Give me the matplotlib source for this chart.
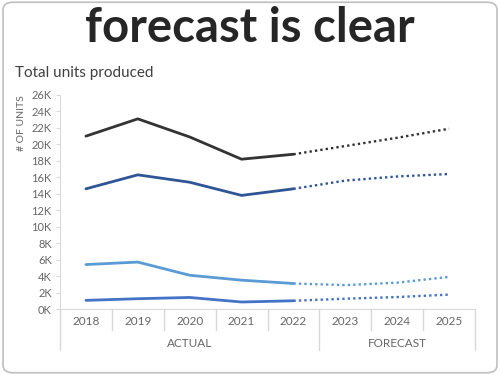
import matplotlib
matplotlib.use("Agg")
import matplotlib.pyplot as plt
from matplotlib.patches import FancyBboxPatch

years = ["2018", "2019", "2020", "2021", "2022", "2023", "2024", "2025"]
groups = ["ACTUAL", "FORECAST"]
series_black = [21.0, 23.1, 20.9, 18.2, 18.8, 19.8, 20.8, 21.9]
series_dark = [14.6, 16.3, 15.4, 13.8, 14.6, 15.6, 16.1, 16.4]
series_light = [5.4, 5.7, 4.1, 3.5, 3.1, 2.9, 3.2, 3.9]
series_mid = [1.05, 1.25, 1.4, 0.85, 1.0, 1.25, 1.45, 1.75]
yticks = [0, 2, 4, 6, 8, 10, 12, 14, 16, 18, 20, 22, 24, 26]

plt.rcParams['font.family'] = ['Lato', 'DejaVu Sans']

fig = plt.figure(figsize=(5, 3.75), dpi=100)
fig.patch.set_facecolor("white")

# rounded frame
frame = FancyBboxPatch((0.006, 0.006), 0.988, 0.988,
                       boxstyle="round,pad=0,rounding_size=0.02",
                       transform=fig.transFigure, fill=False,
                       edgecolor="#bfbfbf", linewidth=1.2)
fig.patches.append(frame)

fig.text(0.5, 0.925, "forecast is clear", ha="center", va="center",
         fontsize=34, fontweight="bold", color="#262626")
fig.text(0.03, 0.805, "Total units produced", ha="left", va="center",
         fontsize=11, color="#404040")
fig.text(0.044, 0.747, "# OF UNITS", ha="center", va="top", rotation=90,
         fontsize=7.5, color="#666666")

ax = fig.add_axes([0.12, 0.176, 0.83, 0.5707])
ax.set_xlim(-0.5, 7.5)
ax.set_ylim(0, 26)

x = list(range(len(years)))
split = 4
styles = [(series_black, "#333333"), (series_dark, "#2f5597"),
          (series_light, "#5b9bd5"), (series_mid, "#4472c4")]
for vals, col in styles:
    ax.plot(x[:split + 1], vals[:split + 1], color=col, lw=2.0,
            solid_capstyle="round")
    ax.plot(x[split:], vals[split:], color=col, lw=1.7, linestyle=(0, (1, 1.3)))

for s in ["top", "right"]:
    ax.spines[s].set_visible(False)
ax.spines["left"].set_color("#d9d9d9")
ax.spines["bottom"].set_color("#d9d9d9")
ax.set_yticks(yticks)
ax.set_yticklabels([f"{v}K" for v in yticks])
ax.tick_params(axis="y", length=3, color="#d9d9d9", labelsize=8,
               labelcolor="#666666", pad=3)
ax.set_xticks([])

trans = ax.get_xaxis_transform()
# short separators
for b in [0.5, 1.5, 2.5, 3.5, 5.5, 6.5]:
    ax.plot([b, b], [0, -0.1], color="#d9d9d9", lw=1, transform=trans,
            clip_on=False)
for b in [-0.5, 4.5, 7.5]:
    ax.plot([b, b], [0, -0.19], color="#d9d9d9", lw=1, transform=trans,
            clip_on=False)
for i, yl in enumerate(years):
    ax.text(i, -0.06, yl, transform=trans, ha="center", va="center",
            fontsize=8.5, color="#666666")
ax.text(2, -0.16, groups[0], transform=trans, ha="center", va="center",
        fontsize=8.5, color="#666666")
ax.text(6, -0.16, groups[1], transform=trans, ha="center", va="center",
        fontsize=8.5, color="#666666")

fig.savefig("out.png", dpi=100)
